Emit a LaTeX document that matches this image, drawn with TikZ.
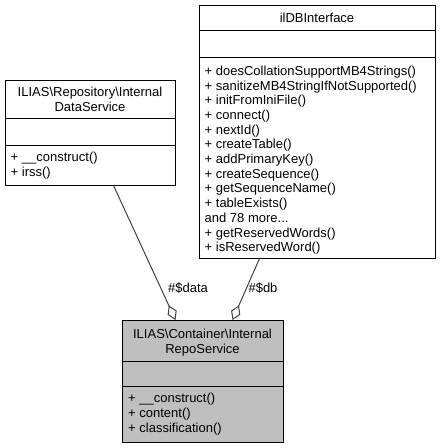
\documentclass[tikz,border=0pt]{standalone}
\usepackage{fontspec}
\setmainfont{Liberation Sans}
\usetikzlibrary{arrows.meta}
\definecolor{boxgray}{HTML}{BFBFBF}
\definecolor{edgegray}{HTML}{404040}
\begin{document}
\begin{tikzpicture}[x=1bp,y=-1bp,
  box/.style={draw=black, line width=1bp, inner sep=0, anchor=north west},
  txt/.style={inner sep=0, font=\fontsize{13bp}{14.7bp}\selectfont},
  divider/.style={draw=black, line width=1bp},
  edge/.style={draw=edgegray, line width=1bp, {Diamond[open,length=16bp,width=10bp]}-}]
\useasboundingbox (0,0) rectangle (440,448);

% Left box
\node[box, minimum width=170bp, minimum height=104.5bp] (A) at (5,80) {};
\draw[divider] ([yshift=-38.5bp]A.north west) -- ([yshift=-38.5bp]A.north east);
\draw[divider] ([yshift=-65.5bp]A.north west) -- ([yshift=-65.5bp]A.north east);
\node[txt, align=center, anchor=north] (At) at (90,86.7) {ILIAS\textbackslash Repository\textbackslash Internal\\DataService};
\node[txt, align=left, anchor=north west] (Am) at (10.5,151.7) {+ \_\_construct()\\+ irss()};

% Right box
\node[box, minimum width=236bp, minimum height=252.5bp] (B) at (199,5) {};
\draw[divider] ([yshift=-26bp]B.north west) -- ([yshift=-26bp]B.north east);
\draw[divider] ([yshift=-52.5bp]B.north west) -- ([yshift=-52.5bp]B.north east);
\node[txt, anchor=north] (Bt) at (317,13) {ilDBInterface};
\node[txt, align=left, anchor=north west] (Bm) at (204.5,65.7) {+ doesCollationSupportMB4Strings()\\+ sanitizeMB4StringIfNotSupported()\\+ initFromIniFile()\\+ connect()\\+ nextId()\\+ createTable()\\+ addPrimaryKey()\\+ createSequence()\\+ getSequenceName()\\+ tableExists()\\and 78 more...\\+ getReservedWords()\\+ isReservedWord()};

% Bottom box
\node[box, fill=boxgray, minimum width=161.6bp, minimum height=121.7bp] (C) at (121.7,320) {};
\draw[divider] ([yshift=-41.5bp]C.north west) -- ([yshift=-41.5bp]C.north east);
\draw[divider] ([yshift=-66.5bp]C.north west) -- ([yshift=-66.5bp]C.north east);
\node[txt, align=center, anchor=north] (Ct) at (202.5,329) {ILIAS\textbackslash Container\textbackslash Internal\\RepoService};
\node[txt, align=left, anchor=north west] (Cm) at (128,393.3) {+ \_\_construct()\\+ content()\\+ classification()};

% Edges
\draw[edge] ([xshift=-27.5bp]C.north) -- ([xshift=23bp]A.south);
\draw[edge] ([xshift=29.5bp]C.north) -- ([xshift=-58bp]B.south);
\node[txt] (Ld) at (188,288) {\#\$data};
\node[txt] (Ldb) at (263,288) {\#\$db};
\end{tikzpicture}
\end{document}
